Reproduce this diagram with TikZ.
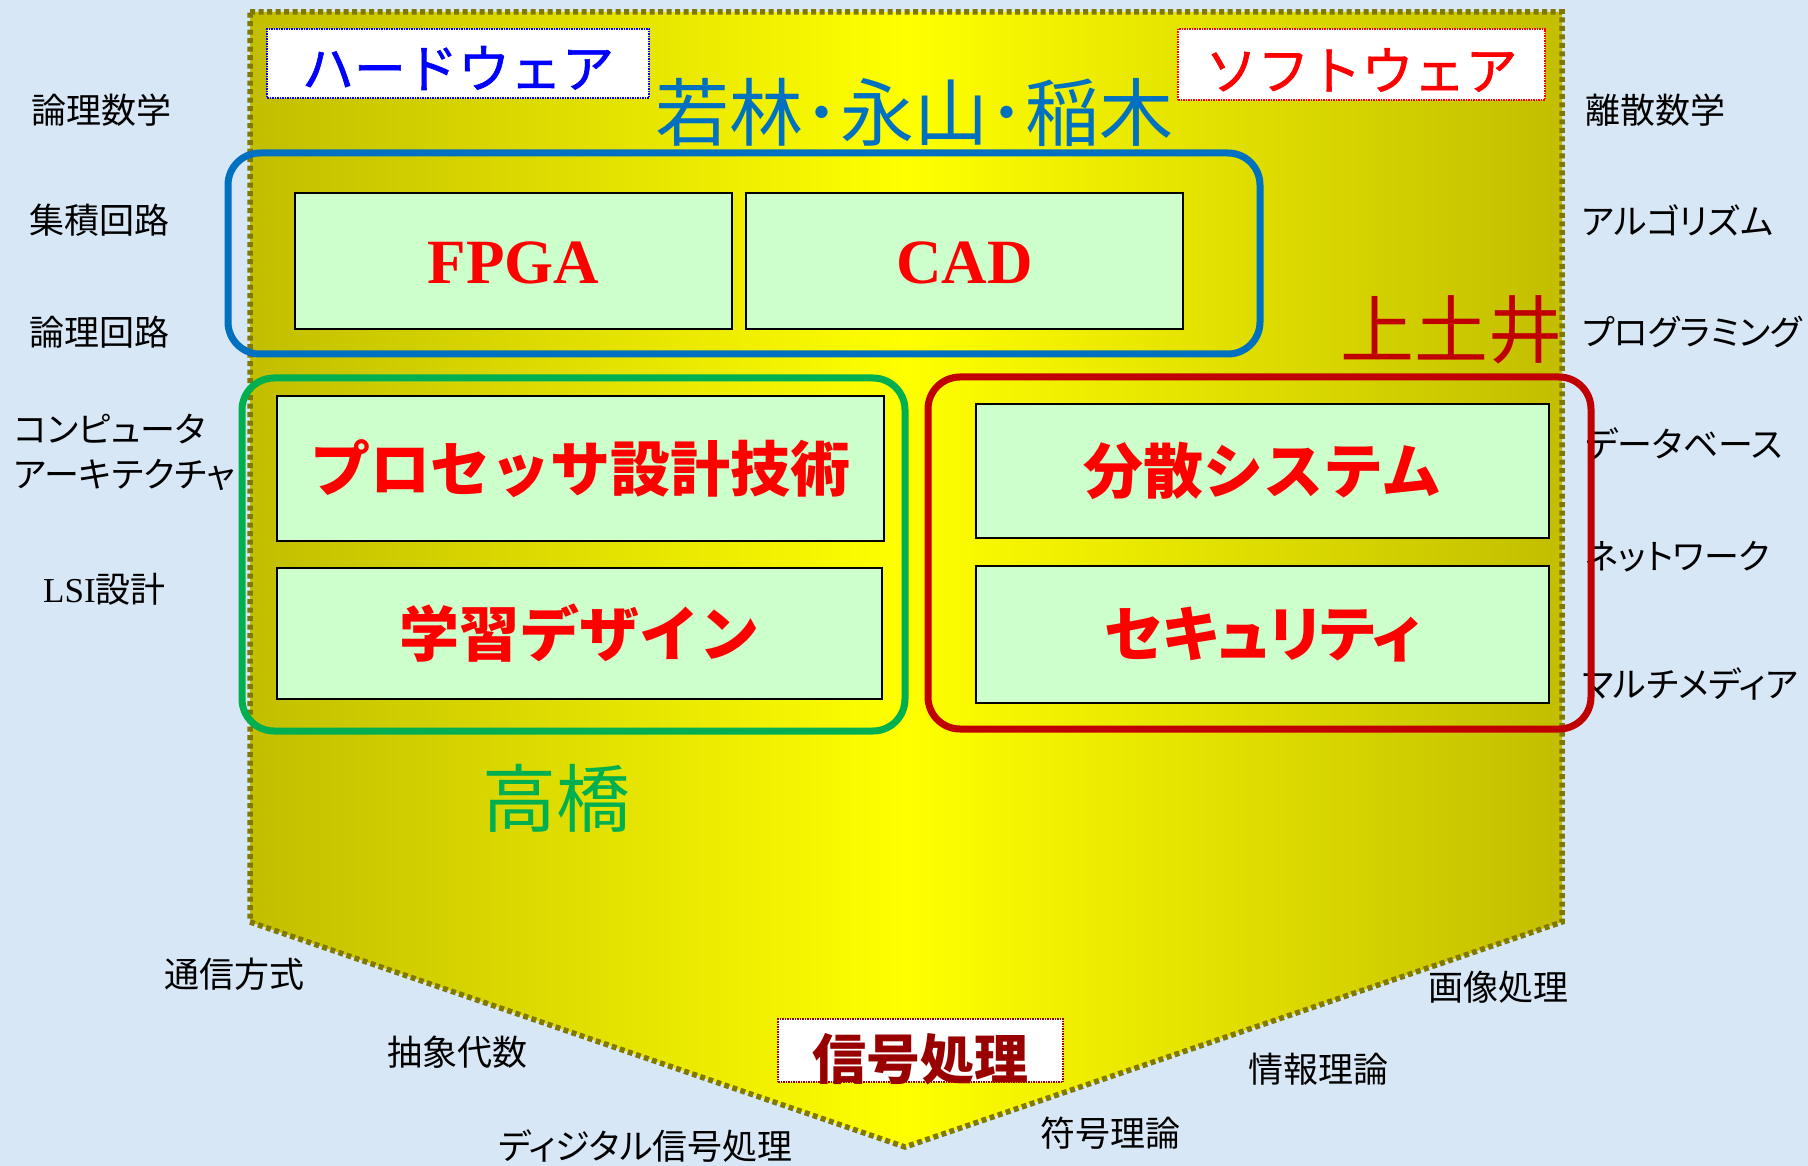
\documentclass[tikz,border=0pt]{standalone}
\usepackage{fontspec}
\setmainfont{Noto Sans CJK JP}
\newfontfamily\serifbold{Liberation Serif}
\newfontfamily\propfont[RawFeature=+palt]{Noto Sans CJK JP}
\definecolor{bgblue}{RGB}{216,231,245}
\definecolor{olivey}{RGB}{194,190,0}
\definecolor{brightyel}{RGB}{255,255,0}
\definecolor{dotolive}{RGB}{128,120,0}
\definecolor{mintbox}{RGB}{204,255,204}
\definecolor{titleblue}{RGB}{0,112,192}
\definecolor{framegreen}{RGB}{0,176,80}
\definecolor{framered}{RGB}{192,0,0}
\definecolor{sigred}{RGB}{153,0,0}
\begin{document}
\begin{tikzpicture}[x=1pt,y=-1pt,
  lbl/.style={font=\propfont\fontsize{35}{45}\selectfont, text=black, anchor=west, inner sep=0pt, align=left},
  topic/.style={draw=black, line width=1.8pt, fill=mintbox, font=\fontsize{60}{72}\selectfont\bfseries, text=red, inner sep=0pt},
  latinlbl/.style={text=red, font=\fontsize{63}{72}\selectfont\serifbold\bfseries, inner sep=0pt},
  grpframe/.style={line width=7pt, rounded corners=32pt, inner sep=0pt},
  tagbox/.style={fill=white, densely dotted, line width=1.5pt, inner sep=0pt},
  bigname/.style={font=\fontsize{74}{80}\selectfont, inner sep=0pt},
]
\useasboundingbox (0,0) rectangle (1808,1166);
\fill[bgblue] (0,0) rectangle (1808,1166);

% left labels
\node[lbl] (l1) at (31,110) {論理数学};
\node[lbl] (l2) at (29,220) {集積回路};
\node[lbl] (l3) at (29,332) {論理回路};
\node[lbl] (l4) at (14,452) {コンピュータ\\アーキテクチャ};
\node[lbl] (l5) at (43,589) {{\serifbold LSI}設計};
% right labels
\node[lbl] (r1) at (1585,110) {離散数学};
\node[lbl] (r2) at (1582,220) {アルゴリズム};
\node[lbl] (r3) at (1582,332) {プログラミング};
\node[lbl] (r4) at (1585,444) {データベース};
\node[lbl] (r5) at (1585,557) {ネットワーク};
\node[lbl] (r6) at (1582,684) {マルチメディア};
% bottom labels
\node[lbl] (b1) at (164,974) {通信方式};
\node[lbl] (b2) at (387,1052) {抽象代数};
\node[lbl] (b3) at (498,1146) {ディジタル信号処理};
\node[lbl] (b4) at (1040,1133) {符号理論};
\node[lbl] (b5) at (1248,1069) {情報理論};
\node[lbl] (b6) at (1428,987) {画像処理};

% pentagon
\coordinate (p1) at (250,12);
\coordinate (p2) at (1562,12);
\coordinate (p3) at (1562,922);
\coordinate (p4) at (905,1147);
\coordinate (p5) at (250,922);
\shade[left color=olivey, right color=olivey, middle color=brightyel]
  (p1) -- (p2) -- (p3) -- (p4) -- (p5) -- cycle;
\draw[dotolive, line width=5.5pt, dash pattern=on 5pt off 3.5pt]
  (p1) -- (p2) -- (p3) -- (p4) -- (p5) -- cycle;

% tag boxes
\node[tagbox, draw=blue, minimum width=382pt, minimum height=69pt] (hw) at (458,63.5) {};
\node[text=blue, font=\fontsize{52}{60}\selectfont, inner sep=0pt] (hwt) at (458,68) {\addfontfeatures{FakeBold=1.2}ハードウェア};
\node[tagbox, draw=red, minimum width=367pt, minimum height=71pt] (sw) at (1361.5,64.5) {};
\node[text=red, font=\fontsize{52}{60}\selectfont, inner sep=0pt] (swt) at (1361.5,70) {\addfontfeatures{FakeBold=1.2}ソフトウェア};

% names
\node[bigname, text=titleblue] (nm1) at (914,112) {若林･永山･稲木};
\node[bigname, text=framered] (nm2) at (1451,330) {上土井};
\node[bigname, text=framegreen] (nm3) at (556,798) {高橋};

% group frames
\node[grpframe, draw=titleblue, minimum width=1032pt, minimum height=201pt] (fb) at (744,253.5) {};
\node[grpframe, draw=framegreen, minimum width=663pt, minimum height=353pt] (fg) at (573.5,554.5) {};
\node[grpframe, draw=framered, minimum width=663pt, minimum height=352pt] (fr) at (1259.5,553) {};

% topic boxes
\node[topic, minimum width=437pt, minimum height=136pt] (fpga) at (513.5,261) {};
\node[latinlbl] (fpgat) at (513.5,263) {FPGA};
\node[topic, minimum width=437pt, minimum height=136pt] (cad) at (964.5,261) {};
\node[latinlbl] (cadt) at (964.5,263) {CAD};
\node[topic, minimum width=607pt, minimum height=145pt] (proc) at (580.5,468.5) {プロセッサ設計技術};
\node[topic, minimum width=605pt, minimum height=131pt] (learn) at (579.5,633.5) {学習デザイン};
\node[topic, minimum width=573pt, minimum height=134pt] (dist) at (1262.5,471) {分散システム};
\node[topic, minimum width=573pt, minimum height=137pt] (sec) at (1262.5,634.5) {\addfontfeatures{RawFeature=+palt}セキュリティ};

% signal processing tag
\node[tagbox, draw=sigred, minimum width=285pt, minimum height=63pt] (sig) at (920.5,1050.5) {};
\node[text=sigred, font=\fontsize{54}{60}\selectfont\bfseries, inner sep=0pt] (sigt) at (920,1059) {信号処理};
\end{tikzpicture}
\end{document}
